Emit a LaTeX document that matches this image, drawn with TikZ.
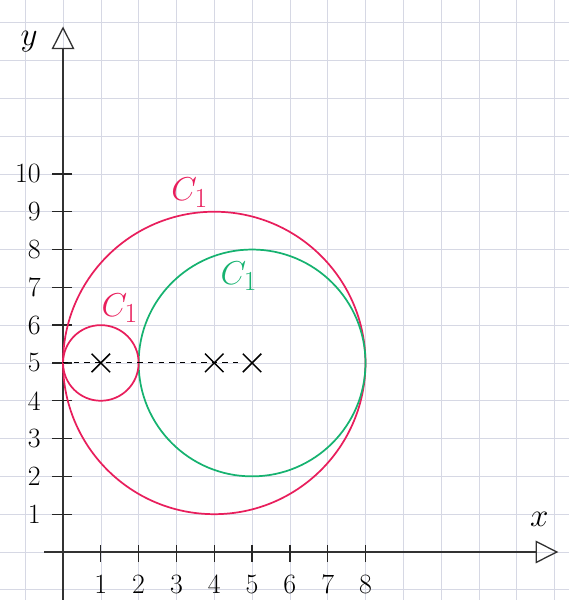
\documentclass[tikz,border=0pt]{standalone}
\usepackage{tikz}
\usetikzlibrary{arrows.meta, positioning, shapes.misc}

\definecolor{penred}{RGB}{232,30,92}
\definecolor{pengreen}{RGB}{22,178,112}
\definecolor{paper}{RGB}{214,216,228}

\begin{document}
\begin{tikzpicture}[
    gridline/.style={draw=paper, line width=0.5pt},
    axis/.style={-{Triangle[open, length=6mm, width=6mm]}, line width=1pt, black!80},
    axistick/.style={line width=1pt, black!85},
    ticklabel/.style={font=\fontsize{21}{24}\selectfont, inner sep=1pt},
    circlabel/.style={font=\fontsize{30}{34}\selectfont},
    circ/.style={line width=1.3pt},
    crossmark/.style={cross out, draw=black, line width=1.1pt, minimum size=0.45cm, inner sep=0pt}
]

% feuille quadrillee
\useasboundingbox (-1.667,-1.27) rectangle (13.386,14.6);
\draw[gridline] (-1.667,-1.27) grid (13.386,14.6);

% axes
\coordinate (xs) at (-0.5,0);
\coordinate (xe) at (13.1,0);
\coordinate (ys) at (0,-1.27);
\coordinate (ye) at (0,13.9);
\draw[axis] (xs) -- (xe);
\draw[axis] (ys) -- (ye);
\node[font=\fontsize{32}{36}\selectfont] (xlab) at (12.6,0.85) {$x$};
\node[font=\fontsize{32}{36}\selectfont] (ylab) at (-0.9,13.5) {$y$};

% graduations
\foreach \i in {1,...,8} {
    \draw[axistick] (\i,0.18) -- (\i,-0.26);
    \node[ticklabel] (tx\i) at (\i,-0.85) {\i};
}
\foreach \j in {1,...,10} {
    \draw[axistick] (-0.28,\j) -- (0.24,\j);
    \node[ticklabel, anchor=east] (ty\j) at (-0.55,\j) {\j};
}

% cercles
\coordinate (c1) at (1,5);
\coordinate (c2) at (4,5);
\coordinate (c3) at (5,5);
\draw[circ, penred] (c2) circle (4);
\draw[circ, pengreen] (c3) circle (3);
\draw[circ, penred] (c1) circle (1);

% centres
\coordinate (start) at (0,5);
\node[crossmark] (k1) at (c1) {};
\node[crossmark] (k2) at (c2) {};
\node[crossmark] (k3) at (c3) {};
\draw[dash pattern=on 4pt off 4pt, line width=0.8pt] (start) -- (k3);

% noms des cercles
\node[circlabel, penred] (big) at (3.35,9.5) {$C_1$};
\node[circlabel, pengreen] (mid) at (4.65,7.3) {$C_1$};
\node[circlabel, penred] (small) at (1.5,6.45) {$C_1$};

\end{tikzpicture}
\end{document}
